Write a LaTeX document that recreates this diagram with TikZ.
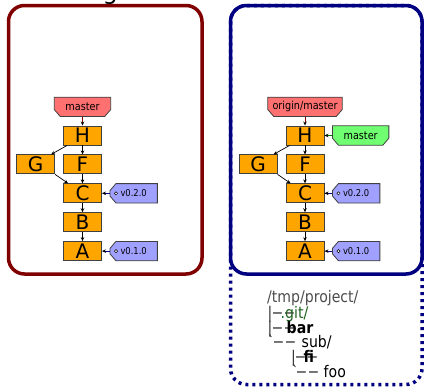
\documentclass[tikz,border=0pt]{standalone}
\usepackage{fontspec}
\setmainfont{DejaVu Sans}
\newfontfamily\narrowfont[FakeStretch=0.88]{DejaVu Sans}
\usetikzlibrary{positioning, calc, arrows.meta, backgrounds}

\definecolor{originred}{HTML}{800000}
\definecolor{clonenavy}{HTML}{000080}
\definecolor{commitorange}{HTML}{FFA500}
\definecolor{branchred}{HTML}{FF7070}
\definecolor{branchgreen}{HTML}{70FF70}
\definecolor{taglilac}{HTML}{A0A0FF}
\definecolor{edgegray}{HTML}{404040}
\definecolor{dirgreen}{HTML}{1E621E}

\newcommand\putat[2]{\rlap{\hspace*{#1}#2}}

\tikzset{
  commit/.style={draw=edgegray, fill=commitorange, line width=0.9pt, minimum width=38pt,
    minimum height=19pt, inner sep=0pt, font=\fontsize{20}{20}\selectfont},
  branch/.style={minimum height=19pt, inner sep=0pt, font=\narrowfont\fontsize{11}{11}\selectfont},
  tagname/.style={minimum width=47pt, minimum height=19pt, inner sep=0pt,
    font=\narrowfont\fontsize{9.5}{9.5}\selectfont},
  parent/.style={-{Stealth[length=4pt,width=3.5pt]}, line width=0.7pt},
  pointer/.style={-{Stealth[length=4pt,width=3.5pt,color=black]}, line width=0.9pt},
  dirline/.style={anchor=base west, inner sep=0pt, font=\narrowfont\fontsize{16}{16}\selectfont,
    text=black!80},
}

\begin{document}
\begin{tikzpicture}[x=1pt, y=-1pt]
  \useasboundingbox (0,0) rectangle (425,388);

  % repositories
  \draw[originred, line width=3.5pt, rounded corners=16pt] (8.5,5.5) rectangle (202,274);
  \draw[clonenavy, line width=3.5pt, dash pattern=on 3pt off 4pt, rounded corners=16pt]
    (230.5,5.5) rectangle (422,384.5);
  \draw[clonenavy, line width=3.5pt, rounded corners=16pt] (230.5,5.5) rectangle (422,274);
  \node[anchor=base, inner sep=0pt, font=\fontsize{24}{24}\selectfont] (titleA) at (105.5,-0.5) {origin};

  % origin
  \node[commit] (hA) at (82.5,135.5) {H};
  \node[commit, below=9pt of hA] (fA) {F};
  \node[commit, left=8pt of fA] (gA) {G};
  \node[commit, below=9pt of fA] (cA) {C};
  \node[commit, below=9pt of cA] (bA) {B};
  \node[commit, below=9pt of bA] (aA) {A};
  \node[branch, minimum width=56pt, above=9pt of hA] (mA) {master};
  \node[tagname, right=8pt of cA] (t2A) {v0.2.0};
  \node[tagname, right=8pt of aA] (t1A) {v0.1.0};

  % clone
  \node[commit] (hB) at (305,135.5) {H};
  \node[commit, below=9pt of hB] (fB) {F};
  \node[commit, left=8pt of fB] (gB) {G};
  \node[commit, below=9pt of fB] (cB) {C};
  \node[commit, below=9pt of cB] (bB) {B};
  \node[commit, below=9pt of bB] (aB) {A};
  \node[branch, minimum width=74pt, above=9pt of hB] (oB) {origin/master};
  \node[branch, minimum width=56pt, right=8pt of hB] (mB) {master};
  \node[tagname, right=8pt of cB] (t2B) {v0.2.0};
  \node[tagname, right=8pt of aB] (t1B) {v0.1.0};

  \begin{scope}[on background layer]
    \foreach \b/\c in {mA/branchred, oB/branchred, mB/branchgreen}
      \draw[edgegray, fill=\c, line width=0.8pt] (\b.north west) -- (\b.north east)
        -- ([yshift=7pt]\b.south east) -- ([xshift=-6pt]\b.south east)
        -- ([xshift=6pt]\b.south west) -- ([yshift=7pt]\b.south west) -- cycle;
    \foreach \t in {t2A, t1A, t2B, t1B} {
      \draw[edgegray, fill=taglilac, line width=0.8pt] (\t.north east)
        -- ([xshift=6pt]\t.north west) -- ([yshift=-7pt]\t.north west)
        -- ([yshift=7pt]\t.south west) -- ([xshift=6pt]\t.south west)
        -- (\t.south east) -- cycle;
      \draw[black, fill=white, line width=0.5pt] ([xshift=6pt]\t.west) circle (1.6pt);
    }
  \end{scope}

  % history
  \foreach \r in {A, B} {
    \draw[parent] (h\r) -- (f\r);
    \draw[parent] (f\r) -- (c\r);
    \draw[parent] (c\r) -- (b\r);
    \draw[parent] (b\r) -- (a\r);
    \draw[parent] ([xshift=4pt]h\r.south west) -- ([xshift=-4pt]g\r.north east);
    \draw[parent] (g\r.south east) -- ([xshift=5pt]c\r.north west);
    \draw[pointer, clonenavy] (t2\r) -- (c\r);
    \draw[pointer, clonenavy] (t1\r) -- (a\r);
  }
  \draw[pointer, originred] (mA) -- (hA);
  \draw[pointer, originred] (oB) -- (hB);
  \draw[pointer, green!45!black] (mB) -- (hB);

  % working tree
  \node[dirline, text=black!70] (dir1) at (267,302.7) {/tmp/project/};
  \node[dirline] (dir2) at (267,318)
    {\putat{0pt}{|}\putat{4pt}{−}\putat{16pt}{−}\putat{13pt}{\color{dirgreen}.git/}};
  \node[dirline] (dir3) at (267,333)
    {\putat{0pt}{|}\putat{4pt}{−}\putat{16pt}{−}\putat{19pt}{\color{black}\bfseries bar}};
  \node[dirline] (dir4) at (267,347.5)
    {\putat{0pt}{\symbol{96}}\putat{5pt}{−}\putat{17pt}{−}\putat{34pt}{\color{black}sub/}};
  \node[dirline] (dir5) at (267,362)
    {\putat{23.5pt}{|}\putat{27pt}{−}\putat{39pt}{−}\putat{36pt}{\color{black}\bfseries fi}};
  \node[dirline] (dir6) at (267,377)
    {\putat{24pt}{\symbol{96}}\putat{28pt}{−}\putat{40pt}{−}\putat{56pt}{\color{black}foo}};
\end{tikzpicture}
\end{document}
